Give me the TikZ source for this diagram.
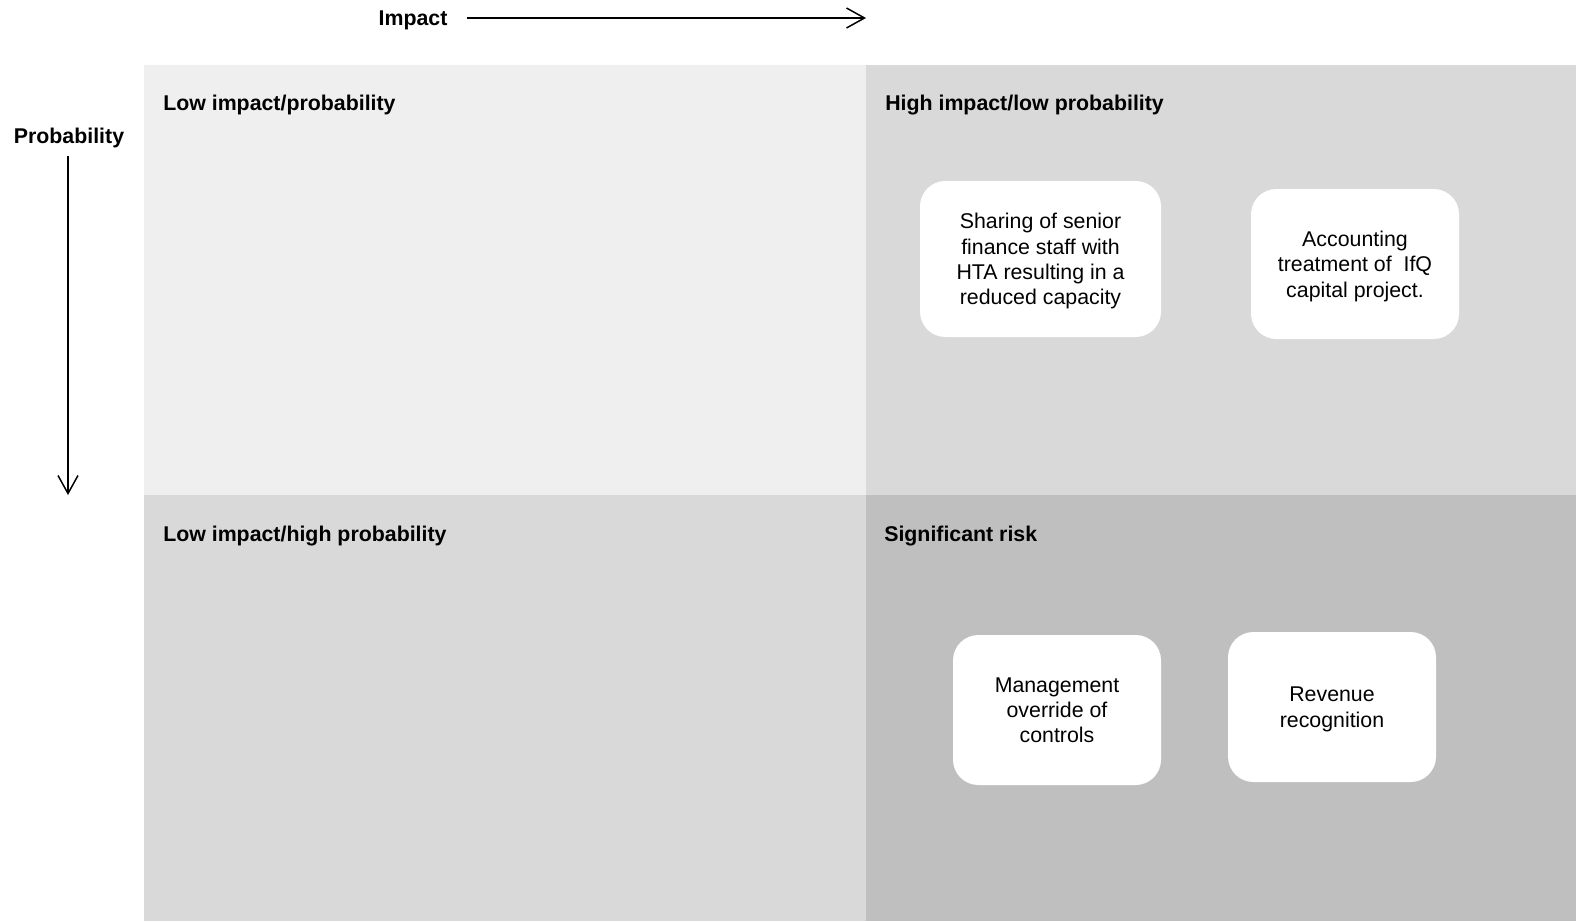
\documentclass[tikz,border=0pt]{standalone}
\usepackage{fontspec}
\setmainfont{Liberation Sans}
\usetikzlibrary{arrows.meta}
\definecolor{qlight}{HTML}{EFEFEF}
\definecolor{qmid}{HTML}{D9D9D9}
\definecolor{qdark}{HTML}{BFBFBF}

\begin{document}
\begin{tikzpicture}[
      x=0.75pt, y=-0.75pt,
      every node/.style={font=\fontsize{16}{19}\selectfont},
      axislabel/.style={font=\fontsize{16}{19}\selectfont\bfseries, anchor=base},
      qtitle/.style={font=\fontsize{16}{19}\selectfont\bfseries, anchor=base west, inner sep=0pt},
      riskbox/.style={fill=white, rounded corners=19pt, align=center, text depth=0pt,
                      minimum width=#1, minimum height=112.5pt, inner sep=0pt},
      axis/.style={line width=1.1pt, -{Straight Barb[length=13.5pt, width=15pt]}},
    ]
    \useasboundingbox (0,0) rectangle (1576,921);

    % quadrants
    \fill[qlight] (144,65)  rectangle (866,495);
    \fill[qmid]   (866,65)  rectangle (1576,495);
    \fill[qmid]   (144,495) rectangle (866,921);
    \fill[qdark]  (866,495) rectangle (1576,921);

    \node[qtitle] (tLL) at (163,110) {Low impact/probability};
    \node[qtitle] (tHL) at (885,110) {High impact/low probability};
    \node[qtitle] (tLH) at (163,541) {Low impact/high probability};
    \node[qtitle] (tSR) at (884,541) {Significant risk};

    % axes
    \node[axislabel] (impact) at (413,25.6) {Impact};
    \node[axislabel] (prob)   at (69,143.5) {Probability};
    \coordinate (impStart) at (467,18);
    \coordinate (impEnd)   at (866,18);
    \coordinate (probStart) at (68,156);
    \coordinate (probEnd)   at (68,495);
    \draw[axis] (impStart) -- (impEnd);
    \draw[axis] (probStart) -- (probEnd);

    % risks
    \node[riskbox=180.75pt, minimum height=117pt] (staff) at (1040.5,259)
      {Sharing of senior\\finance staff with\\HTA resulting in a\\reduced capacity};
    \node[riskbox=156pt] (ifq) at (1355,264)
      {Accounting\\treatment of~ IfQ\\capital project.};
    \node[riskbox=156pt] (override) at (1057,710)
      {Management\\override of\\controls};
    \node[riskbox=156pt] (revenue) at (1332,707)
      {Revenue\\recognition};
  \end{tikzpicture}
\end{document}
